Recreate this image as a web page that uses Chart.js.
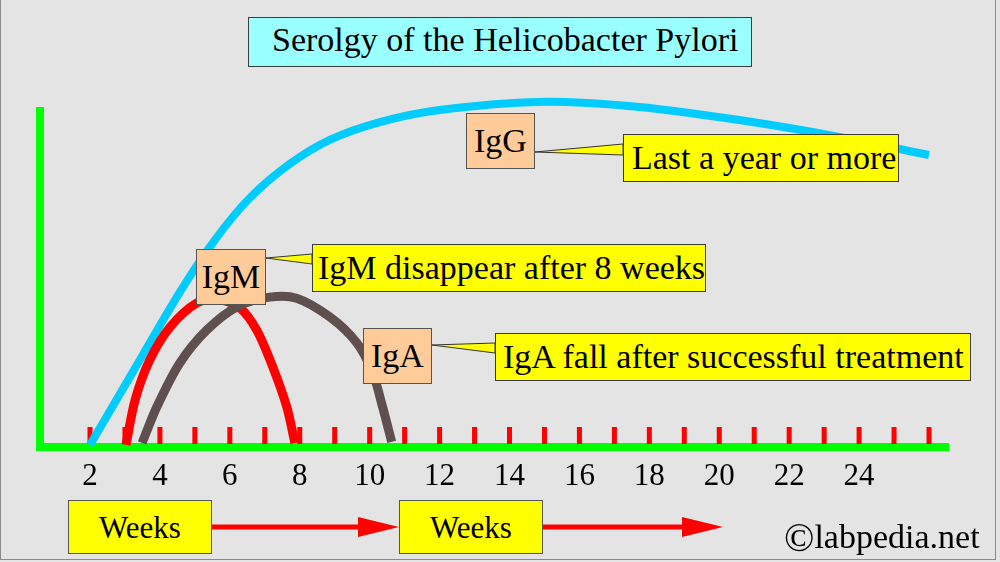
<!DOCTYPE html>
<html>
<head>
<meta charset="utf-8">
<script src="https://cdn.jsdelivr.net/npm/chart.js@4.4.0/dist/chart.umd.min.js"></script>
<style>
  body { margin: 0; background: #e4e4e4; }
  #wrap { position: relative; width: 1000px; height: 562px; overflow: hidden;
          font-family: "Liberation Serif", "Times New Roman", serif; color: #000; }
  #frame { position: absolute; left: 0; top: -2px; width: 996px; height: 562px;
           border: 1px solid #8a8a8a; box-sizing: border-box; }
  canvas, svg { position: absolute; left: 0; top: 0; }
  .box { position: absolute; box-sizing: border-box; border: 1px solid #3c3c3c;
         display: flex; align-items: center; white-space: nowrap; line-height: 1; font-size: 34px; }
  .tag { background: #ffcc99; justify-content: center; border-color: #555; }
  .note { background: #ffff00; padding-left: 8px; }
  .weeks { background: #ffff00; justify-content: center; font-size: 31px; border-color: #555; }
  #copy { position: absolute; left: 784px; top: 518px; font-size: 34px; line-height: 1; white-space: nowrap; }
  #copy span { font-size: 40px; vertical-align: -3px; }
</style>
</head>
<body>
<div id="wrap">
  <canvas id="serology" width="1000" height="562"></canvas>
  <svg width="1000" height="562">
    <g fill="#ffff00" stroke="#333" stroke-width="1">
      <polygon points="535,152 623,144 623,155"/>
      <polygon points="266,258 312,254 312,264"/>
      <polygon points="432,345 495,343 495,353"/>
    </g>
    <g fill="#ff0000">
      <rect x="212" y="524.5" width="148" height="5"/>
      <polygon points="358,517 399,527 358,537"/>
      <rect x="543" y="524.5" width="141" height="5"/>
      <polygon points="682,517 723,527 682,537"/>
    </g>
  </svg>
  <div class="box" style="left:248px;top:17px;width:504px;height:50px;background:#99ffff;padding:0 0 5px 23px;">Serolgy of the Helicobacter Pylori</div>
  <div class="box tag" style="left:466px;top:113px;width:69px;height:56px;">IgG</div>
  <div class="box note" style="left:623px;top:134px;width:276px;height:48px;">Last a year or more</div>
  <div class="box tag" style="left:196px;top:249px;width:70px;height:56px;">IgM</div>
  <div class="box note" style="left:312px;top:244px;width:394px;height:48px;padding-left:5px;">IgM disappear after 8 weeks</div>
  <div class="box tag" style="left:363px;top:328px;width:69px;height:56px;">IgA</div>
  <div class="box note" style="left:495px;top:333px;width:476px;height:48px;padding-left:7px;">IgA fall after successful treatment</div>
  <div class="box weeks" style="left:68px;top:500px;width:144px;height:54px;">Weeks</div>
  <div class="box weeks" style="left:399px;top:500px;width:144px;height:54px;">Weeks</div>
  <div id="copy"><span>©</span>labpedia.net</div>
  <div id="frame"></div>
</div>
<script>
// weeks on the x axis, antibody level in arbitrary units (0-100)
const tickWeeks = [2, 3, 4, 5, 6, 7, 8, 9, 10, 11, 12, 13, 14, 15, 16, 17, 18, 19, 20, 21, 22, 23, 24, 25, 26];
const labelWeeks = [2, 4, 6, 8, 10, 12, 14, 16, 18, 20, 22, 24];

const igGWeeks = [2, 3.14, 4.57, 5.57, 6.57, 7.71, 8.86, 10.29, 12, 14.86, 17.71, 20.57, 23.43, 26];
const igGLevel = [0.6, 20.8, 46.1, 61.6, 74.1, 84.2, 91.4, 96.7, 100.3, 102.7, 101.2, 97.3, 92.3, 86.9];

const igMWeeks = [3.03, 3.29, 3.71, 4.29, 5.06, 5.66, 6.29, 6.77, 7.23, 7.63, 7.86];
const igMLevel = [0.6, 14.0, 25.9, 35.7, 42.9, 44.0, 41.4, 34.8, 23.8, 11.9, 1.2];

const igAWeeks = [3.49, 3.91, 4.57, 5.34, 6.2, 7.14, 7.91, 8.86, 9.63, 10.09, 10.37, 10.63];
const igALevel = [1.2, 11.9, 25.0, 34.8, 41.7, 44.6, 44.3, 38.7, 31.0, 22.0, 11.9, 1.5];

const toPoints = (xs, ys) => xs.map((x, i) => ({ x: x, y: ys[i] }));

const redTicks = {
    id: 'redTicks',
    beforeDatasetsDraw(chart) {
        const ctx = chart.ctx;
        const xs = chart.scales.x;
        const bottom = chart.chartArea.bottom;
        ctx.save();
        ctx.fillStyle = '#ff0000';
        tickWeeks.forEach(w => {
            const px = xs.getPixelForValue(w);
            ctx.fillRect(px - 2.5, bottom - 20, 5, 17);
        });
        ctx.restore();
    }
};

Chart.defaults.font.family = '"Liberation Serif", "Times New Roman", serif';
Chart.defaults.color = '#000';

let ctx = document.querySelector('#serology').getContext('2d');
new Chart(ctx, {
    type: 'line',
    data: {
        datasets: [{
            label: 'IgA',
            data: toPoints(igAWeeks, igALevel),
            borderColor: '#5f4f4f',
            borderWidth: 9,
            order: 1
        }, {
            label: 'IgM',
            data: toPoints(igMWeeks, igMLevel),
            borderColor: '#ff0000',
            borderWidth: 9,
            order: 2
        }, {
            label: 'IgG',
            data: toPoints(igGWeeks, igGLevel),
            borderColor: '#00ccff',
            borderWidth: 8,
            order: 3
        }]
    },
    options: {
        responsive: false,
        animation: false,
        devicePixelRatio: 1,
        layout: { padding: { top: 111, right: 52, bottom: 0, left: 0 } },
        datasets: {
            line: {
                pointRadius: 0,
                fill: false,
                clip: false,
                tension: 0.3,
                borderCapStyle: 'butt'
            }
        },
        plugins: {
            legend: { display: false },
            tooltip: { enabled: false }
        },
        scales: {
            x: {
                type: 'linear',
                min: 0.57,
                max: 26.543,
                grid: { display: false, drawTicks: false },
                border: { color: '#00ff00', width: 8 },
                ticks: { font: { size: 31 }, padding: 11, maxRotation: 0, autoSkip: false },
                afterBuildTicks: s => { s.ticks = labelWeeks.map(v => ({ value: v })); },
                afterFit: s => { s.height = 115; }
            },
            y: {
                min: 0,
                max: 100,
                grid: { display: false, drawTicks: false },
                border: { color: '#00ff00', width: 8 },
                ticks: { display: false },
                afterFit: s => { s.width = 40; }
            }
        }
    },
    plugins: [redTicks]
});
</script>
</body>
</html>
